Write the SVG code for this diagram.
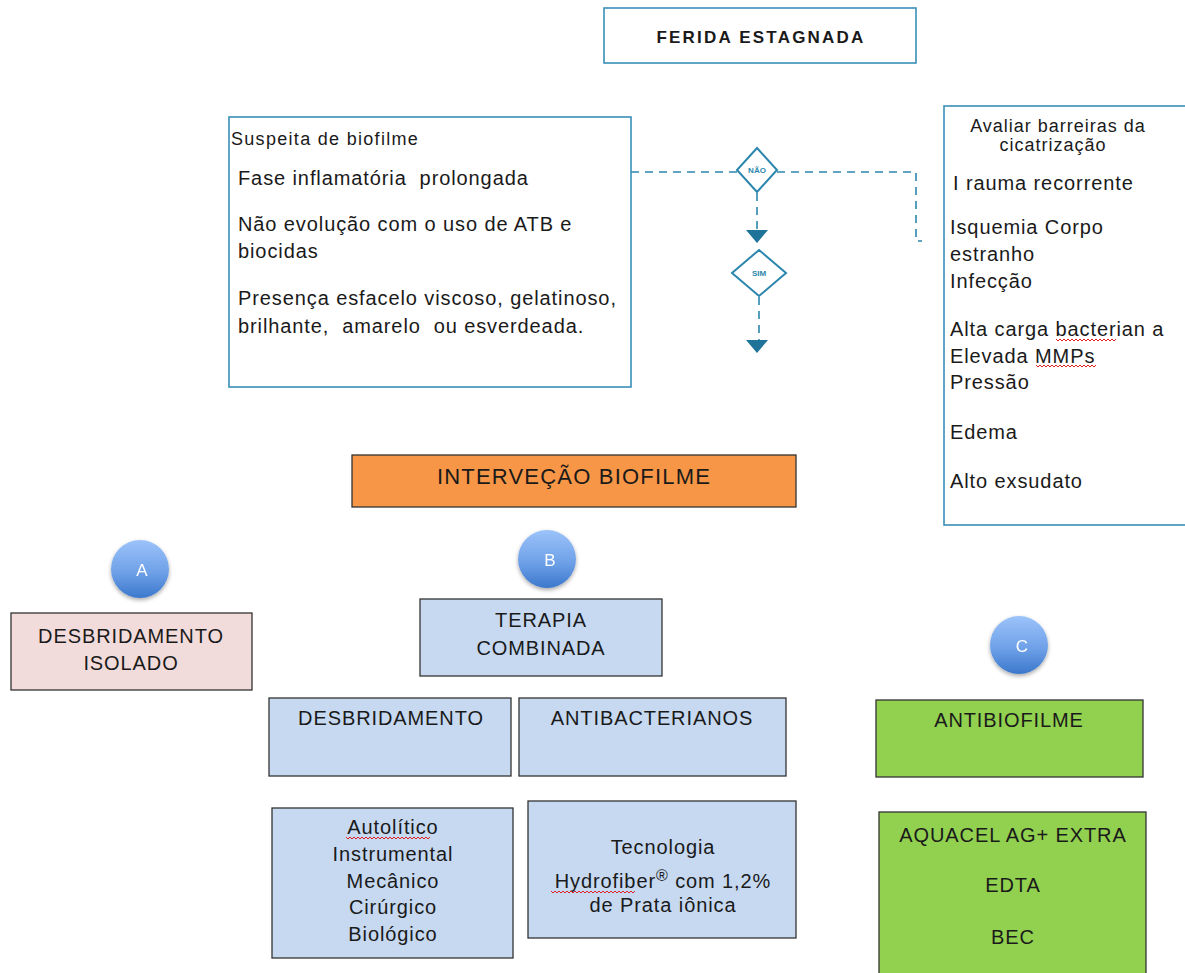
<svg xmlns="http://www.w3.org/2000/svg" width="1185" height="973" viewBox="0 0 1185 973">
  <defs>
    <linearGradient id="ball" x1="0" y1="0" x2="0" y2="1">
      <stop offset="0" stop-color="#9cc3fa"/>
      <stop offset="0.55" stop-color="#6fa1e8"/>
      <stop offset="1" stop-color="#3b78cc"/>
    </linearGradient>
    <filter id="shadow" x="-30%" y="-30%" width="160%" height="170%">
      <feGaussianBlur in="SourceAlpha" stdDeviation="2"/>
      <feOffset dy="2" result="b"/>
      <feComponentTransfer><feFuncA type="linear" slope="0.35"/></feComponentTransfer>
      <feMerge><feMergeNode/><feMergeNode in="SourceGraphic"/></feMerge>
    </filter>
    <path id="squiggle" d="M0 0 l2 2 l2 -2 l2 2 l2 -2 l2 2 l2 -2" fill="none" stroke="#e02020" stroke-width="1"/>
  </defs>
  <style>
    text { font-family: "Liberation Sans", Arial, sans-serif; fill: #1a1a1a; white-space: pre; }
    .outline { fill: #ffffff; stroke: #3a8fb8; stroke-width: 1.6; }
    .dark { stroke: #333333; stroke-width: 1.3; }
    .blue { fill: #c6d9f1; }
    .green { fill: #92d050; }
    .pink { fill: #f2dcdb; }
    .orange { fill: #f79646; }
    .t19 { font-size: 20px; letter-spacing: 0.9px; }
    .mid { text-anchor: middle; }
    .dash { fill: none; stroke: #2b86ad; stroke-width: 1.6; stroke-dasharray: 8 6; }
    .dia { fill: #ffffff; stroke: #2b86ad; stroke-width: 2; }
    .head { fill: #1f7399; }
    .dlabel { font-size: 8px; font-weight: bold; fill: #2b86ad; text-anchor: middle; }
    .letter { font-size: 17px; fill: #ffffff; text-anchor: middle; }
  </style>

  <!-- connectors: dashed decision path -->
  <g id="connectors">
    <path class="dash" d="M631 172 H738"/>
    <path class="dash" d="M777 172 H916 V241 H922"/>
    <path class="dash" d="M757 193 V230"/>
    <polygon class="head" points="746,230 768,230 757,243"/>
    <path class="dash" d="M759 297 V340"/>
    <polygon class="head" points="746,340 768,340 757,353"/>
  </g>

  <g id="ferida">
    <rect class="outline" x="604" y="8" width="312" height="55"/>
    <text x="761" y="43" class="mid" style="font-size:17px;font-weight:bold;letter-spacing:2.2px">FERIDA ESTAGNADA</text>
  </g>

  <g id="suspeita">
    <rect class="outline" x="229" y="117" width="402" height="270"/>
    <text x="231" y="145" style="font-size:18px;letter-spacing:1.3px">Suspeita de biofilme</text>
    <text x="238" y="185" class="t19">Fase inflamatória  prolongada</text>
    <text x="238" y="231" class="t19">Não evolução com o uso de ATB e</text>
    <text x="238" y="258" class="t19">biocidas</text>
    <text x="238" y="305" class="t19">Presença esfacelo viscoso, gelatinoso,</text>
    <text x="238" y="333" class="t19">brilhante,  amarelo  ou esverdeada.</text>
  </g>

  <g id="nao">
    <polygon class="dia" points="757,148 777,170 757,192 737,170"/>
    <text x="757" y="173" class="dlabel">NÃO</text>
  </g>

  <g id="sim">
    <polygon class="dia" points="759,250 786,273 759,296 732,273"/>
    <text x="759" y="276" class="dlabel">SIM</text>
  </g>

  <g id="barreiras">
    <rect class="outline" x="944" y="106" width="260" height="419"/>
    <text x="1058" y="132" class="mid" style="font-size:18px;letter-spacing:1px">Avaliar barreiras da</text>
    <text x="1053" y="151" class="mid" style="font-size:18px;letter-spacing:1px">cicatrização</text>
    <text x="953" y="190" class="t19">I rauma recorrente</text>
    <text x="950" y="234" class="t19">Isquemia Corpo</text>
    <text x="950" y="261" class="t19">estranho</text>
    <text x="950" y="288" class="t19">Infecção</text>
    <text x="950" y="336" class="t19">Alta carga bacterian a</text>
    <text x="950" y="363" class="t19">Elevada MMPs</text>
    <text x="950" y="389" class="t19">Pressão</text>
    <text x="950" y="439" class="t19">Edema</text>
    <text x="950" y="488" class="t19">Alto exsudato</text>
    <use href="#squiggle" x="1056" y="339"/><use href="#squiggle" x="1068" y="339"/><use href="#squiggle" x="1080" y="339"/><use href="#squiggle" x="1092" y="339"/><use href="#squiggle" x="1104" y="339"/>
    <use href="#squiggle" x="1036" y="365"/><use href="#squiggle" x="1048" y="365"/><use href="#squiggle" x="1060" y="365"/><use href="#squiggle" x="1072" y="365"/><use href="#squiggle" x="1084" y="365"/>
  </g>

  <g id="intervencao">
    <rect class="orange dark" x="352" y="455" width="444" height="52"/>
    <text x="574" y="484" class="mid" style="font-size:22px;letter-spacing:1.2px">INTERVEÇÃO BIOFILME</text>
  </g>

  <g id="circle-a" filter="url(#shadow)">
    <circle cx="140" cy="569" r="29" fill="url(#ball)"/>
    <text x="142" y="576" class="letter">A</text>
  </g>
  <g id="circle-b" filter="url(#shadow)">
    <circle cx="547" cy="559" r="29" fill="url(#ball)"/>
    <text x="550" y="566" class="letter">B</text>
  </g>
  <g id="circle-c" filter="url(#shadow)">
    <circle cx="1019" cy="645" r="29" fill="url(#ball)"/>
    <text x="1022" y="652" class="letter">C</text>
  </g>

  <g id="desbridamento-isolado">
    <rect class="pink dark" x="11" y="613" width="241" height="77"/>
    <text x="131" y="643" class="mid t19">DESBRIDAMENTO</text>
    <text x="131" y="670" class="mid t19">ISOLADO</text>
  </g>

  <g id="terapia">
    <rect class="blue dark" x="420" y="599" width="242" height="77"/>
    <text x="541" y="627" class="mid t19">TERAPIA</text>
    <text x="541" y="655" class="mid t19">COMBINADA</text>
  </g>

  <g id="desbridamento">
    <rect class="blue dark" x="269" y="698" width="242" height="78"/>
    <text x="391" y="725" class="mid t19">DESBRIDAMENTO</text>
  </g>

  <g id="antibacterianos">
    <rect class="blue dark" x="519" y="698" width="267" height="78"/>
    <text x="652" y="725" class="mid t19">ANTIBACTERIANOS</text>
  </g>

  <g id="metodos">
    <rect class="blue dark" x="272" y="808" width="241" height="150"/>
    <text x="393" y="834" class="mid t19">Autolítico</text>
    <text x="393" y="861" class="mid t19">Instrumental</text>
    <text x="393" y="888" class="mid t19">Mecânico</text>
    <text x="393" y="914" class="mid t19">Cirúrgico</text>
    <text x="393" y="941" class="mid t19">Biológico</text>
    <use href="#squiggle" x="346" y="837"/><use href="#squiggle" x="358" y="837"/><use href="#squiggle" x="370" y="837"/><use href="#squiggle" x="382" y="837"/><use href="#squiggle" x="394" y="837"/><use href="#squiggle" x="406" y="837"/><use href="#squiggle" x="418" y="837"/>
  </g>

  <g id="tecnologia">
    <rect class="blue dark" x="528" y="801" width="268" height="137"/>
    <text x="663" y="854" class="mid t19">Tecnologia</text>
    <text x="663" y="888" class="mid t19">Hydrofiber<tspan dy="-7" style="font-size:16px">®</tspan><tspan dy="7"> com 1,2%</tspan></text>
    <text x="663" y="912" class="mid t19">de Prata iônica</text>
    <use href="#squiggle" x="551" y="891"/><use href="#squiggle" x="563" y="891"/><use href="#squiggle" x="575" y="891"/><use href="#squiggle" x="587" y="891"/><use href="#squiggle" x="599" y="891"/><use href="#squiggle" x="611" y="891"/><use href="#squiggle" x="623" y="891"/>
  </g>

  <g id="antibiofilme">
    <rect class="green dark" x="876" y="700" width="267" height="77"/>
    <text x="1009" y="727" class="mid t19">ANTIBIOFILME</text>
  </g>

  <g id="aquacel">
    <rect class="green dark" x="879" y="812" width="267" height="170"/>
    <text x="1013" y="842" class="mid t19">AQUACEL AG+ EXTRA</text>
    <text x="1013" y="892" class="mid t19">EDTA</text>
    <text x="1013" y="944" class="mid t19">BEC</text>
  </g>
</svg>
